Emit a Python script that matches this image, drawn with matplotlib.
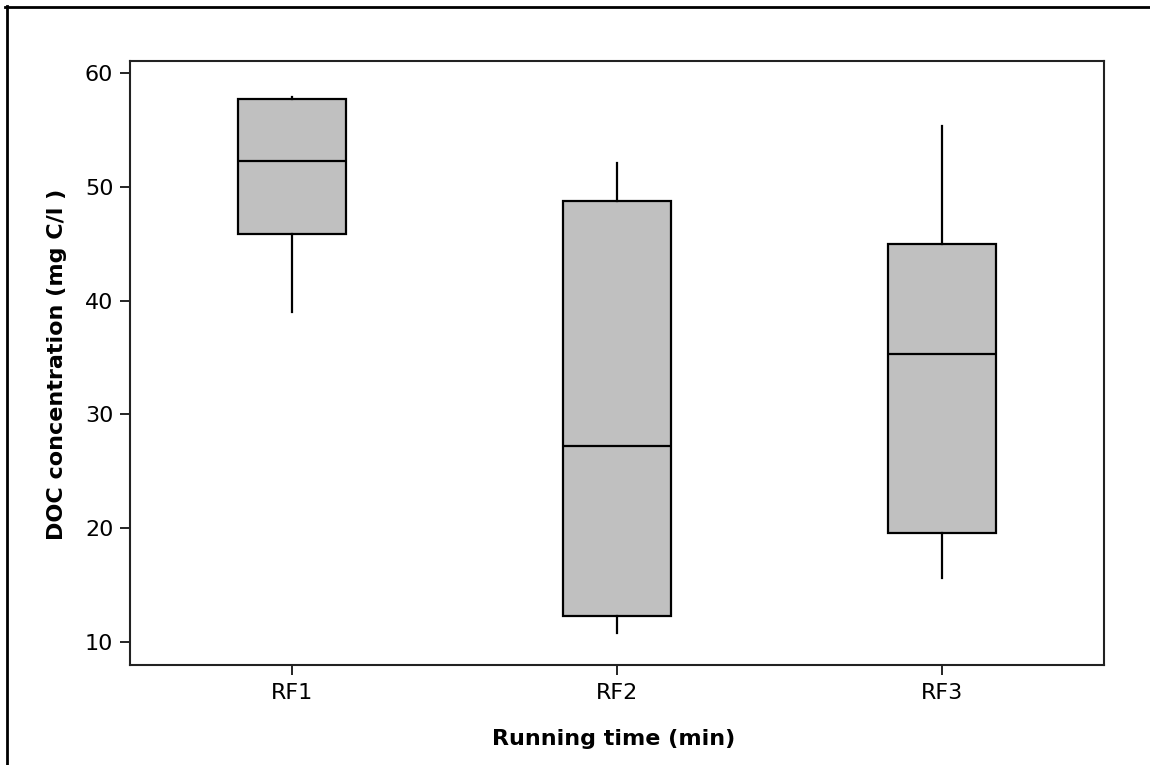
import matplotlib
matplotlib.use("Agg")
import matplotlib.pyplot as plt
from matplotlib.lines import Line2D

categories = ["RF1", "RF2", "RF3"]
whisker_low = [39.0, 10.8, 15.6]
q1 = [45.85, 12.3, 19.6]
median = [52.3, 27.2, 35.3]
q3 = [57.75, 48.75, 44.95]
whisker_high = [57.9, 52.1, 55.3]
yticks = [10, 20, 30, 40, 50, 60]

fig = plt.figure(figsize=(11.5, 7.65), dpi=100)
W, H = 1150, 765
ax = fig.add_axes([130 / W, 1 - 665 / H, (1104 - 130) / W, (665 - 61) / H])

stats = []
for i, c in enumerate(categories):
    stats.append(dict(label=c, whislo=whisker_low[i], q1=q1[i], med=median[i],
                      q3=q3[i], whishi=whisker_high[i], fliers=[]))

ax.bxp(stats, positions=[1, 2, 3], widths=0.333, showcaps=False, patch_artist=True,
       boxprops=dict(facecolor="#c0c0c0", edgecolor="black", linewidth=1.6),
       medianprops=dict(color="black", linewidth=1.6),
       whiskerprops=dict(color="black", linewidth=1.6))

ax.set_xlim(0.5, 3.5)
ax.set_ylim(7.98, 61.05)
ax.set_yticks(yticks)
ax.set_xticks([1, 2, 3])
ax.set_xticklabels(categories)
ax.tick_params(axis="both", direction="out", length=7, width=1.2, labelsize=16,
               colors="black")
ax.tick_params(axis="x", pad=6)
ax.tick_params(axis="y", pad=5)
for s in ax.spines.values():
    s.set_linewidth(1.5)
    s.set_color("#222222")

ax.set_xlabel("Running time (min)", fontsize=16, fontweight="bold", va="center")
ax.xaxis.set_label_coords((613.5 - 130) / 974, (665 - 739) / 604)
ax.set_ylabel("DOC concentration (mg C/l )", fontsize=16, fontweight="bold", va="center")
ax.yaxis.set_label_coords((57 - 130) / 974, (665 - 364) / 604)

# outer frame (partially cropped)
fig.add_artist(Line2D([5 / W, 1.0], [1 - 6.5 / H, 1 - 6.5 / H], color="black", linewidth=2.0,
                      transform=fig.transFigure))
fig.add_artist(Line2D([6.5 / W, 6.5 / W], [1 - 6 / H, 0.0], color="black", linewidth=2.0,
                      transform=fig.transFigure))

fig.savefig("out.png", dpi=100)
